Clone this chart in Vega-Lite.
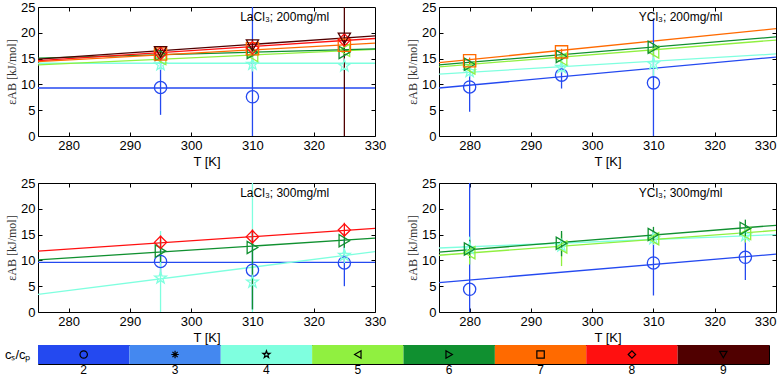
{
  "$schema": "https://vega.github.io/schema/vega-lite/v6.json",
  "padding": {"left": 3, "top": 0, "right": 0, "bottom": 0},
  "background": "white",
  "datasets": {
    "pts": [
      {"panel": "A", "cs": 2, "T": 295, "eps": 9.4, "lo": 4.1, "hi": 14.7},
      {"panel": "A", "cs": 2, "T": 310, "eps": 7.6, "lo": -5, "hi": 30},
      {"panel": "A", "cs": 4, "T": 295, "eps": 13.8, "lo": 12.8, "hi": 15.0},
      {"panel": "A", "cs": 4, "T": 310, "eps": 13.9, "lo": 12.5, "hi": 15.5},
      {"panel": "A", "cs": 4, "T": 325, "eps": 13.6, "lo": 12.6, "hi": 14.8},
      {"panel": "A", "cs": 5, "T": 295, "eps": 15.0, "lo": 14.2, "hi": 15.8},
      {"panel": "A", "cs": 5, "T": 310, "eps": 15.6, "lo": 14.8, "hi": 16.4},
      {"panel": "A", "cs": 5, "T": 325, "eps": 16.6, "lo": 15.8, "hi": 17.4},
      {"panel": "A", "cs": 6, "T": 295, "eps": 15.8, "lo": 15.0, "hi": 16.6},
      {"panel": "A", "cs": 6, "T": 310, "eps": 16.2, "lo": 15.4, "hi": 17.0},
      {"panel": "A", "cs": 6, "T": 325, "eps": 16.2, "lo": 15.4, "hi": 17.0},
      {"panel": "A", "cs": 7, "T": 295, "eps": 15.9, "lo": 15.1, "hi": 16.7},
      {"panel": "A", "cs": 7, "T": 310, "eps": 16.9, "lo": 16.1, "hi": 17.7},
      {"panel": "A", "cs": 7, "T": 325, "eps": 17.6, "lo": 16.8, "hi": 18.4},
      {"panel": "A", "cs": 8, "T": 295, "eps": 16.0, "lo": 15.0, "hi": 17.0},
      {"panel": "A", "cs": 8, "T": 310, "eps": 17.1, "lo": 16.1, "hi": 18.1},
      {"panel": "A", "cs": 8, "T": 325, "eps": 18.6, "lo": 17.6, "hi": 19.6},
      {"panel": "A", "cs": 9, "T": 295, "eps": 16.3, "lo": 15.3, "hi": 17.3},
      {"panel": "A", "cs": 9, "T": 310, "eps": 17.6, "lo": 16.6, "hi": 18.6},
      {"panel": "A", "cs": 9, "T": 325, "eps": 18.9, "lo": -5, "hi": 30},

      {"panel": "B", "cs": 2, "T": 280, "eps": 9.5, "lo": 4.7, "hi": 14.3},
      {"panel": "B", "cs": 2, "T": 295, "eps": 11.8, "lo": 9.2, "hi": 14.4},
      {"panel": "B", "cs": 2, "T": 310, "eps": 10.3, "lo": -3, "hi": 22.8},
      {"panel": "B", "cs": 4, "T": 280, "eps": 12.5, "lo": 11.5, "hi": 13.5},
      {"panel": "B", "cs": 4, "T": 295, "eps": 13.3, "lo": 12.3, "hi": 14.3},
      {"panel": "B", "cs": 4, "T": 310, "eps": 14.0, "lo": 11.5, "hi": 16.5},
      {"panel": "B", "cs": 5, "T": 280, "eps": 13.2, "lo": 12.4, "hi": 14.0},
      {"panel": "B", "cs": 5, "T": 295, "eps": 14.9, "lo": 14.0, "hi": 15.8},
      {"panel": "B", "cs": 5, "T": 310, "eps": 16.3, "lo": 15.3, "hi": 17.3},
      {"panel": "B", "cs": 6, "T": 280, "eps": 13.9, "lo": 13.2, "hi": 14.6},
      {"panel": "B", "cs": 6, "T": 295, "eps": 15.4, "lo": 14.7, "hi": 16.1},
      {"panel": "B", "cs": 6, "T": 310, "eps": 17.2, "lo": 16.5, "hi": 17.9},
      {"panel": "B", "cs": 7, "T": 280, "eps": 14.6, "lo": 14.0, "hi": 15.2},
      {"panel": "B", "cs": 7, "T": 295, "eps": 16.3, "lo": 15.7, "hi": 16.9},

      {"panel": "C", "cs": 2, "T": 295, "eps": 9.8, "lo": 7.5, "hi": 12.0},
      {"panel": "C", "cs": 2, "T": 310, "eps": 8.1, "lo": 0.5, "hi": 15.7},
      {"panel": "C", "cs": 2, "T": 325, "eps": 9.5, "lo": 5.0, "hi": 14.0},
      {"panel": "C", "cs": 4, "T": 295, "eps": 6.6, "lo": -5, "hi": 15.7},
      {"panel": "C", "cs": 4, "T": 310, "eps": 5.8, "lo": -5, "hi": 30},
      {"panel": "C", "cs": 4, "T": 325, "eps": 11.0, "lo": 9.5, "hi": 12.5},
      {"panel": "C", "cs": 6, "T": 295, "eps": 11.8, "lo": 9.7, "hi": 14.0},
      {"panel": "C", "cs": 6, "T": 310, "eps": 12.5, "lo": 0.5, "hi": 15.8},
      {"panel": "C", "cs": 6, "T": 325, "eps": 13.8, "lo": 12.4, "hi": 15.3},
      {"panel": "C", "cs": 8, "T": 295, "eps": 13.5, "lo": 12.3, "hi": 14.8},
      {"panel": "C", "cs": 8, "T": 310, "eps": 14.6, "lo": 13.0, "hi": 16.0},
      {"panel": "C", "cs": 8, "T": 325, "eps": 15.9, "lo": 14.6, "hi": 17.3},

      {"panel": "D", "cs": 2, "T": 280, "eps": 4.4, "lo": -5, "hi": 30},
      {"panel": "D", "cs": 2, "T": 310, "eps": 9.5, "lo": 3.2, "hi": 15.8},
      {"panel": "D", "cs": 2, "T": 325, "eps": 10.6, "lo": 6.2, "hi": 14.9},
      {"panel": "D", "cs": 4, "T": 280, "eps": 12.3, "lo": 10.0, "hi": 14.6},
      {"panel": "D", "cs": 4, "T": 295, "eps": 12.8, "lo": 11.5, "hi": 14.1},
      {"panel": "D", "cs": 4, "T": 310, "eps": 14.2, "lo": 13.0, "hi": 15.4},
      {"panel": "D", "cs": 4, "T": 325, "eps": 14.8, "lo": 13.5, "hi": 16.1},
      {"panel": "D", "cs": 5, "T": 280, "eps": 11.5, "lo": 9.2, "hi": 13.8},
      {"panel": "D", "cs": 5, "T": 295, "eps": 12.6, "lo": 8.9, "hi": 15.2},
      {"panel": "D", "cs": 5, "T": 310, "eps": 14.2, "lo": 13.2, "hi": 15.2},
      {"panel": "D", "cs": 5, "T": 325, "eps": 15.2, "lo": 13.5, "hi": 16.5},
      {"panel": "D", "cs": 6, "T": 280, "eps": 12.2, "lo": 10.5, "hi": 14.0},
      {"panel": "D", "cs": 6, "T": 295, "eps": 13.3, "lo": 10.8, "hi": 15.7},
      {"panel": "D", "cs": 6, "T": 310, "eps": 15.0, "lo": 13.6, "hi": 16.5},
      {"panel": "D", "cs": 6, "T": 325, "eps": 16.2, "lo": 14.5, "hi": 17.9}
    ],
    "lines": [
      {"panel": "A", "cs": 2, "T": 275, "eps": 9.3}, {"panel": "A", "cs": 2, "T": 330, "eps": 9.3},
      {"panel": "A", "cs": 4, "T": 275, "eps": 14.1}, {"panel": "A", "cs": 4, "T": 330, "eps": 14.1},
      {"panel": "A", "cs": 5, "T": 275, "eps": 13.8}, {"panel": "A", "cs": 5, "T": 330, "eps": 16.8},
      {"panel": "A", "cs": 6, "T": 275, "eps": 15.1}, {"panel": "A", "cs": 6, "T": 330, "eps": 16.9},
      {"panel": "A", "cs": 7, "T": 275, "eps": 14.4}, {"panel": "A", "cs": 7, "T": 330, "eps": 18.0},
      {"panel": "A", "cs": 8, "T": 275, "eps": 14.6}, {"panel": "A", "cs": 8, "T": 330, "eps": 18.9},
      {"panel": "A", "cs": 9, "T": 275, "eps": 14.9}, {"panel": "A", "cs": 9, "T": 330, "eps": 19.4},
      {"panel": "B", "cs": 2, "T": 275, "eps": 9.3}, {"panel": "B", "cs": 2, "T": 330, "eps": 15.3},
      {"panel": "B", "cs": 4, "T": 275, "eps": 12.0}, {"panel": "B", "cs": 4, "T": 330, "eps": 15.9},
      {"panel": "B", "cs": 5, "T": 275, "eps": 13.4}, {"panel": "B", "cs": 5, "T": 330, "eps": 18.6},
      {"panel": "B", "cs": 6, "T": 275, "eps": 13.8}, {"panel": "B", "cs": 6, "T": 330, "eps": 19.2},
      {"panel": "B", "cs": 7, "T": 275, "eps": 14.2}, {"panel": "B", "cs": 7, "T": 330, "eps": 20.8},
      {"panel": "C", "cs": 2, "T": 275, "eps": 9.6}, {"panel": "C", "cs": 2, "T": 330, "eps": 9.6},
      {"panel": "C", "cs": 4, "T": 275, "eps": 3.4}, {"panel": "C", "cs": 4, "T": 330, "eps": 11.7},
      {"panel": "C", "cs": 6, "T": 275, "eps": 10.1}, {"panel": "C", "cs": 6, "T": 330, "eps": 14.3},
      {"panel": "C", "cs": 8, "T": 275, "eps": 11.8}, {"panel": "C", "cs": 8, "T": 330, "eps": 16.2},
      {"panel": "D", "cs": 2, "T": 275, "eps": 5.7}, {"panel": "D", "cs": 2, "T": 330, "eps": 11.2},
      {"panel": "D", "cs": 4, "T": 275, "eps": 12.4}, {"panel": "D", "cs": 4, "T": 330, "eps": 15.0},
      {"panel": "D", "cs": 5, "T": 275, "eps": 11.0}, {"panel": "D", "cs": 5, "T": 330, "eps": 15.8},
      {"panel": "D", "cs": 6, "T": 275, "eps": 11.6}, {"panel": "D", "cs": 6, "T": 330, "eps": 16.8}
    ],
    "notes": [
      {"panel": "A", "T": 308, "eps": 23.0, "label": "LaCl₃; 200mg/ml"},
      {"panel": "B", "T": 307.6, "eps": 23.0, "label": "YCl₃; 200mg/ml"},
      {"panel": "C", "T": 308, "eps": 23.0, "label": "LaCl₃; 300mg/ml"},
      {"panel": "D", "T": 307.6, "eps": 23.0, "label": "YCl₃; 300mg/ml"}
    ],
    "cbar": [
      {"cs": 2, "lab": "cₛ/cₚ"}, {"cs": 3, "lab": "cₛ/cₚ"}, {"cs": 4, "lab": "cₛ/cₚ"}, {"cs": 5, "lab": "cₛ/cₚ"},
      {"cs": 6, "lab": "cₛ/cₚ"}, {"cs": 7, "lab": "cₛ/cₚ"}, {"cs": 8, "lab": "cₛ/cₚ"}, {"cs": 9, "lab": "cₛ/cₚ"}
    ]
  },
  "vconcat": [
    {
      "vconcat": [
        {
          "hconcat": [
            {
              "width": 337, "height": 129,
              "resolve": {"axis": {"x": "independent", "y": "independent"}},
              "layer": [
                {"data": {"name": "lines"}, "transform": [{"filter": "datum.panel == 'A'"}],
                 "mark": {"type": "line", "strokeWidth": 1.3, "clip": true},
                 "encoding": {
                   "x": {"field": "T", "type": "quantitative", "scale": {"domain": [275, 330], "nice": false, "zero": false}, "axis": {"orient": "top", "labels": false, "title": null, "values": [280, 290, 300, 310, 320]}},
                   "y": {"field": "eps", "type": "quantitative", "scale": {"domain": [0, 25], "nice": false}, "axis": {"orient": "right", "labels": false, "title": null, "values": [5, 10, 15, 20]}},
                   "color": {"field": "cs", "type": "ordinal", "scale": {"domain": [2, 3, 4, 5, 6, 7, 8, 9], "range": ["#2449f0", "#4488f0", "#7fffdf", "#90f040", "#109030", "#ff6a00", "#ff1010", "#500000"]}, "legend": null}}},
                {"data": {"name": "pts"}, "transform": [{"filter": "datum.panel == 'A'"}],
                 "mark": {"type": "rule", "strokeWidth": 1.3, "clip": true},
                 "encoding": {
                   "x": {"field": "T", "type": "quantitative", "axis": null},
                   "y": {"field": "lo", "type": "quantitative", "axis": null}, "y2": {"field": "hi"},
                   "color": {"field": "cs", "type": "ordinal", "legend": null}}},
                {"data": {"name": "pts"}, "transform": [{"filter": "datum.panel == 'A'"}],
                 "mark": {"type": "point", "filled": false, "size": 150, "strokeWidth": 1.3, "opacity": 1, "clip": true},
                 "encoding": {
                   "x": {"field": "T", "type": "quantitative", "axis": {"orient": "bottom", "title": "T [K]", "values": [280, 290, 300, 310, 320, 330]}},
                   "y": {"field": "eps", "type": "quantitative", "axis": {"orient": "left", "title": "εAB [kJ/mol]", "values": [0, 5, 10, 15, 20, 25]}},
                   "color": {"field": "cs", "type": "ordinal", "legend": null},
                   "shape": {"field": "cs", "type": "ordinal", "scale": {"domain": [2, 3, 4, 5, 6, 7, 8, 9], "range": ["circle", "M-1,0L1,0M0,-1L0,1M-0.7,-0.7L0.7,0.7M-0.7,0.7L0.7,-0.7", "M0,-1L0.235,-0.324L0.951,-0.309L0.38,0.124L0.588,0.809L0,0.4L-0.588,0.809L-0.38,0.124L-0.951,-0.309L-0.235,-0.324Z", "triangle-left", "triangle-right", "square", "diamond", "triangle-down"]}, "legend": null}}},
                {"data": {"name": "notes"}, "transform": [{"filter": "datum.panel == 'A'"}],
                 "mark": {"type": "text", "align": "left", "baseline": "middle", "fontSize": 12, "font": "Liberation Sans", "color": "black"},
                 "encoding": {
                   "x": {"field": "T", "type": "quantitative", "axis": null},
                   "y": {"field": "eps", "type": "quantitative", "axis": null},
                   "text": {"field": "label"}}}
              ]
            },
            {
              "width": 337, "height": 129,
              "resolve": {"axis": {"x": "independent", "y": "independent"}},
              "layer": [
                {"data": {"name": "lines"}, "transform": [{"filter": "datum.panel == 'B'"}],
                 "mark": {"type": "line", "strokeWidth": 1.3, "clip": true},
                 "encoding": {
                   "x": {"field": "T", "type": "quantitative", "scale": {"domain": [275, 330], "nice": false, "zero": false}, "axis": {"orient": "top", "labels": false, "title": null, "values": [280, 290, 300, 310, 320]}},
                   "y": {"field": "eps", "type": "quantitative", "scale": {"domain": [0, 25], "nice": false}, "axis": {"orient": "right", "labels": false, "title": null, "values": [5, 10, 15, 20]}},
                   "color": {"field": "cs", "type": "ordinal", "scale": {"domain": [2, 3, 4, 5, 6, 7, 8, 9], "range": ["#2449f0", "#4488f0", "#7fffdf", "#90f040", "#109030", "#ff6a00", "#ff1010", "#500000"]}, "legend": null}}},
                {"data": {"name": "pts"}, "transform": [{"filter": "datum.panel == 'B'"}],
                 "mark": {"type": "rule", "strokeWidth": 1.3, "clip": true},
                 "encoding": {
                   "x": {"field": "T", "type": "quantitative", "axis": null},
                   "y": {"field": "lo", "type": "quantitative", "axis": null}, "y2": {"field": "hi"},
                   "color": {"field": "cs", "type": "ordinal", "legend": null}}},
                {"data": {"name": "pts"}, "transform": [{"filter": "datum.panel == 'B'"}],
                 "mark": {"type": "point", "filled": false, "size": 150, "strokeWidth": 1.3, "opacity": 1, "clip": true},
                 "encoding": {
                   "x": {"field": "T", "type": "quantitative", "axis": {"orient": "bottom", "title": "T [K]", "values": [280, 290, 300, 310, 320, 330], "labelFlush": 1, "labelFlushOffset": 0}},
                   "y": {"field": "eps", "type": "quantitative", "axis": {"orient": "left", "title": "εAB [kJ/mol]", "values": [0, 5, 10, 15, 20, 25]}},
                   "color": {"field": "cs", "type": "ordinal", "legend": null},
                   "shape": {"field": "cs", "type": "ordinal", "scale": {"domain": [2, 3, 4, 5, 6, 7, 8, 9], "range": ["circle", "M-1,0L1,0M0,-1L0,1M-0.7,-0.7L0.7,0.7M-0.7,0.7L0.7,-0.7", "M0,-1L0.235,-0.324L0.951,-0.309L0.38,0.124L0.588,0.809L0,0.4L-0.588,0.809L-0.38,0.124L-0.951,-0.309L-0.235,-0.324Z", "triangle-left", "triangle-right", "square", "diamond", "triangle-down"]}, "legend": null}}},
                {"data": {"name": "notes"}, "transform": [{"filter": "datum.panel == 'B'"}],
                 "mark": {"type": "text", "align": "left", "baseline": "middle", "fontSize": 12, "font": "Liberation Sans", "color": "black"},
                 "encoding": {
                   "x": {"field": "T", "type": "quantitative", "axis": null},
                   "y": {"field": "eps", "type": "quantitative", "axis": null},
                   "text": {"field": "label"}}}
              ]
            }
          ],
          "spacing": 19
        },
        {
          "hconcat": [
            {
              "width": 337, "height": 129,
              "resolve": {"axis": {"x": "independent", "y": "independent"}},
              "layer": [
                {"data": {"name": "lines"}, "transform": [{"filter": "datum.panel == 'C'"}],
                 "mark": {"type": "line", "strokeWidth": 1.3, "clip": true},
                 "encoding": {
                   "x": {"field": "T", "type": "quantitative", "scale": {"domain": [275, 330], "nice": false, "zero": false}, "axis": {"orient": "top", "labels": false, "title": null, "values": [280, 290, 300, 310, 320]}},
                   "y": {"field": "eps", "type": "quantitative", "scale": {"domain": [0, 25], "nice": false}, "axis": {"orient": "right", "labels": false, "title": null, "values": [5, 10, 15, 20]}},
                   "color": {"field": "cs", "type": "ordinal", "scale": {"domain": [2, 3, 4, 5, 6, 7, 8, 9], "range": ["#2449f0", "#4488f0", "#7fffdf", "#90f040", "#109030", "#ff6a00", "#ff1010", "#500000"]}, "legend": null}}},
                {"data": {"name": "pts"}, "transform": [{"filter": "datum.panel == 'C'"}],
                 "mark": {"type": "rule", "strokeWidth": 1.3, "clip": true},
                 "encoding": {
                   "x": {"field": "T", "type": "quantitative", "axis": null},
                   "y": {"field": "lo", "type": "quantitative", "axis": null}, "y2": {"field": "hi"},
                   "color": {"field": "cs", "type": "ordinal", "legend": null}}},
                {"data": {"name": "pts"}, "transform": [{"filter": "datum.panel == 'C'"}],
                 "mark": {"type": "point", "filled": false, "size": 150, "strokeWidth": 1.3, "opacity": 1, "clip": true},
                 "encoding": {
                   "x": {"field": "T", "type": "quantitative", "axis": {"orient": "bottom", "title": "T [K]", "values": [280, 290, 300, 310, 320, 330]}},
                   "y": {"field": "eps", "type": "quantitative", "axis": {"orient": "left", "title": "εAB [kJ/mol]", "values": [0, 5, 10, 15, 20, 25]}},
                   "color": {"field": "cs", "type": "ordinal", "legend": null},
                   "shape": {"field": "cs", "type": "ordinal", "scale": {"domain": [2, 3, 4, 5, 6, 7, 8, 9], "range": ["circle", "M-1,0L1,0M0,-1L0,1M-0.7,-0.7L0.7,0.7M-0.7,0.7L0.7,-0.7", "M0,-1L0.235,-0.324L0.951,-0.309L0.38,0.124L0.588,0.809L0,0.4L-0.588,0.809L-0.38,0.124L-0.951,-0.309L-0.235,-0.324Z", "triangle-left", "triangle-right", "square", "diamond", "triangle-down"]}, "legend": null}}},
                {"data": {"name": "notes"}, "transform": [{"filter": "datum.panel == 'C'"}],
                 "mark": {"type": "text", "align": "left", "baseline": "middle", "fontSize": 12, "font": "Liberation Sans", "color": "black"},
                 "encoding": {
                   "x": {"field": "T", "type": "quantitative", "axis": null},
                   "y": {"field": "eps", "type": "quantitative", "axis": null},
                   "text": {"field": "label"}}}
              ]
            },
            {
              "width": 337, "height": 129,
              "resolve": {"axis": {"x": "independent", "y": "independent"}},
              "layer": [
                {"data": {"name": "lines"}, "transform": [{"filter": "datum.panel == 'D'"}],
                 "mark": {"type": "line", "strokeWidth": 1.3, "clip": true},
                 "encoding": {
                   "x": {"field": "T", "type": "quantitative", "scale": {"domain": [275, 330], "nice": false, "zero": false}, "axis": {"orient": "top", "labels": false, "title": null, "values": [280, 290, 300, 310, 320]}},
                   "y": {"field": "eps", "type": "quantitative", "scale": {"domain": [0, 25], "nice": false}, "axis": {"orient": "right", "labels": false, "title": null, "values": [5, 10, 15, 20]}},
                   "color": {"field": "cs", "type": "ordinal", "scale": {"domain": [2, 3, 4, 5, 6, 7, 8, 9], "range": ["#2449f0", "#4488f0", "#7fffdf", "#90f040", "#109030", "#ff6a00", "#ff1010", "#500000"]}, "legend": null}}},
                {"data": {"name": "pts"}, "transform": [{"filter": "datum.panel == 'D'"}],
                 "mark": {"type": "rule", "strokeWidth": 1.3, "clip": true},
                 "encoding": {
                   "x": {"field": "T", "type": "quantitative", "axis": null},
                   "y": {"field": "lo", "type": "quantitative", "axis": null}, "y2": {"field": "hi"},
                   "color": {"field": "cs", "type": "ordinal", "legend": null}}},
                {"data": {"name": "pts"}, "transform": [{"filter": "datum.panel == 'D'"}],
                 "mark": {"type": "point", "filled": false, "size": 150, "strokeWidth": 1.3, "opacity": 1, "clip": true},
                 "encoding": {
                   "x": {"field": "T", "type": "quantitative", "axis": {"orient": "bottom", "title": "T [K]", "values": [280, 290, 300, 310, 320, 330], "labelFlush": 1, "labelFlushOffset": 0}},
                   "y": {"field": "eps", "type": "quantitative", "axis": {"orient": "left", "title": "εAB [kJ/mol]", "values": [0, 5, 10, 15, 20, 25]}},
                   "color": {"field": "cs", "type": "ordinal", "legend": null},
                   "shape": {"field": "cs", "type": "ordinal", "scale": {"domain": [2, 3, 4, 5, 6, 7, 8, 9], "range": ["circle", "M-1,0L1,0M0,-1L0,1M-0.7,-0.7L0.7,0.7M-0.7,0.7L0.7,-0.7", "M0,-1L0.235,-0.324L0.951,-0.309L0.38,0.124L0.588,0.809L0,0.4L-0.588,0.809L-0.38,0.124L-0.951,-0.309L-0.235,-0.324Z", "triangle-left", "triangle-right", "square", "diamond", "triangle-down"]}, "legend": null}}},
                {"data": {"name": "notes"}, "transform": [{"filter": "datum.panel == 'D'"}],
                 "mark": {"type": "text", "align": "left", "baseline": "middle", "fontSize": 12, "font": "Liberation Sans", "color": "black"},
                 "encoding": {
                   "x": {"field": "T", "type": "quantitative", "axis": null},
                   "y": {"field": "eps", "type": "quantitative", "axis": null},
                   "text": {"field": "label"}}}
              ]
            }
          ],
          "spacing": 19
        }
      ],
      "spacing": 7
    },
    {
      "data": {"name": "cbar"},
      "width": 731, "height": 19,
      "layer": [
        {"mark": {"type": "rect"},
         "encoding": {
           "x": {"field": "cs", "type": "ordinal", "scale": {"paddingInner": 0, "paddingOuter": 0}, "axis": {"orient": "bottom", "title": null, "labelAngle": 0, "ticks": false, "domain": false, "labelPadding": 0, "labelFontSize": 12}},
           "y": {"field": "lab", "type": "nominal", "axis": {"title": null, "ticks": false, "domain": false, "labelPadding": 8, "labelFontSize": 13}},
           "color": {"field": "cs", "type": "ordinal", "scale": {"domain": [2, 3, 4, 5, 6, 7, 8, 9], "range": ["#2449f0", "#4488f0", "#7fffdf", "#90f040", "#109030", "#ff6a00", "#ff1010", "#500000"]}, "legend": null}}},
        {"mark": {"type": "point", "filled": false, "color": "black", "size": 55, "strokeWidth": 1.2, "opacity": 1},
         "encoding": {
           "x": {"field": "cs", "type": "ordinal"},
           "y": {"field": "lab", "type": "nominal"},
           "shape": {"field": "cs", "type": "ordinal", "scale": {"domain": [2, 3, 4, 5, 6, 7, 8, 9], "range": ["circle", "M-1,0L1,0M0,-1L0,1M-0.7,-0.7L0.7,0.7M-0.7,0.7L0.7,-0.7", "M0,-1L0.235,-0.324L0.951,-0.309L0.38,0.124L0.588,0.809L0,0.4L-0.588,0.809L-0.38,0.124L-0.951,-0.309L-0.235,-0.324Z", "triangle-left", "triangle-right", "square", "diamond", "triangle-down"]}, "legend": null}}}
      ]
    }
  ],
  "spacing": -6,
  "resolve": {"scale": {"color": "shared", "shape": "shared"}},
  "config": {
    "view": {"stroke": "black", "strokeWidth": 1},
    "axis": {
      "labelFont": "Liberation Sans", "labelFontSize": 13, "labelColor": "black",
      "titleFont": "Liberation Sans", "titleFontSize": 13, "titleColor": "black", "titleFontWeight": "normal",
      "tickColor": "black", "tickSize": -4, "labelPadding": 7, "domain": false, "grid": false, "labelFlush": false
    },
    "axisLeft": {"titleFont": "Liberation Serif", "titleFontSize": 12, "titleColor": "#333", "titlePadding": 2},
    "axisBottom": {"titlePadding": 3},
    "axisX": {"labelOverlap": false}
  }
}
